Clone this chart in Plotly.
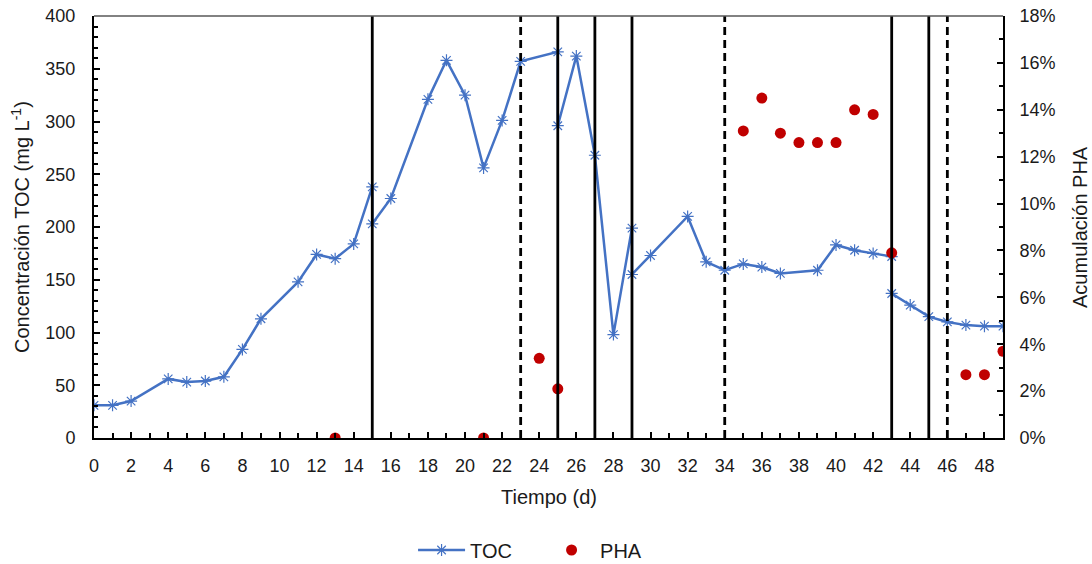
import plotly.graph_objects as go

# TOC concentration (mg/L) by day; repeated days mark the jump at a phase change
toc_day = [0, 1, 2, 4, 5, 6, 7, 8, 9, 11, 12, 13, 14, 15, 15, 16, 18, 19, 20, 21, 22, 23,
           25, 25, 26, 27, 28, 29, 29, 30, 32, 33, 34, 35, 36, 37, 39, 40, 41, 42, 43, 43,
           44, 45, 46, 47, 48, 49]
toc_val = [31, 31, 35, 56, 53, 54, 58, 84, 113, 148, 174, 170, 184, 238, 203, 227, 321, 358,
           325, 256, 301, 357, 366, 296, 362, 268, 98, 199, 155, 173, 210, 167, 159, 165, 162,
           156, 159, 183, 178, 175, 172, 137, 126, 115, 110, 107, 106, 106]

# PHA accumulation (fraction of biomass)
pha_day = [13, 21, 24, 25, 35, 36, 37, 38, 39, 40, 41, 42, 43, 47, 48, 49]
pha_val = [0.0, 0.0, 0.034, 0.021, 0.131, 0.145, 0.130, 0.126, 0.126, 0.126, 0.140, 0.138,
           0.079, 0.027, 0.027, 0.037]

# Operating phase boundaries
solid_days = [15, 25, 27, 29, 43, 45]
dashed_days = [23, 34, 46]

FONT = "Liberation Sans, Arial, sans-serif"
BLUE = "#4472C4"
RED = "#C00000"
TXT = "#1a1a1a"

fig = go.Figure()
fig.add_trace(go.Scatter(
    x=toc_day, y=toc_val, name="TOC", mode="lines+markers",
    line=dict(color=BLUE, width=2.5),
    marker=dict(symbol="asterisk-open", size=10, color=BLUE, line=dict(color=BLUE, width=1.2)),
))
fig.add_trace(go.Scatter(
    x=pha_day, y=pha_val, name="PHA", mode="markers", yaxis="y2",
    marker=dict(symbol="circle", size=11, color=RED),
))

shapes = []
for d in solid_days:
    shapes.append(dict(type="line", xref="x", yref="paper", x0=d, x1=d, y0=0, y1=1,
                       line=dict(color="black", width=2.8), layer="above"))
for d in dashed_days:
    shapes.append(dict(type="line", xref="x", yref="paper", x0=d, x1=d, y0=0, y1=1,
                       line=dict(color="black", width=2.8, dash="8px,5px"), layer="above"))
shapes.append(dict(type="line", xref="paper", yref="paper", x0=0, x1=1, y0=1, y1=1,
                   line=dict(color="#595959", width=1.5), layer="above"))

# Axis titles placed as annotations (plot area spans 909 x 422 px)
annotations = [
    dict(text="Tiempo (d)", xref="paper", yref="paper", x=0.5, y=-0.1398,
         xanchor="center", yanchor="middle", showarrow=False, font=dict(size=20, color=TXT)),
    dict(text="Concentración TOC (mg L<sup>-1</sup>)", xref="paper", yref="paper",
         x=-0.0814, y=0.5, xanchor="center", yanchor="middle", textangle=-90,
         showarrow=False, font=dict(size=20, color=TXT)),
    dict(text="Acumulación PHA", xref="paper", yref="paper",
         x=1.0847, y=0.5, xanchor="center", yanchor="middle", textangle=-90,
         showarrow=False, font=dict(size=20, color=TXT)),
]

fig.update_layout(
    width=1092, height=564,
    margin=dict(l=94, r=89, t=16, b=126, autoexpand=False),
    paper_bgcolor="white", plot_bgcolor="white",
    font=dict(family=FONT, size=18, color=TXT),
    showlegend=True,
    legend=dict(orientation="h", xref="paper", x=0.351, xanchor="left",
                yref="container", y=0.0248, yanchor="middle",
                font=dict(size=20), tracegroupgap=0, traceorder="normal",
                itemwidth=47, entrywidth=68),
    shapes=shapes,
    annotations=annotations,
    xaxis=dict(
        range=[0, 49], dtick=2, tick0=0, showgrid=False, zeroline=False,
        showline=True, linecolor="black", linewidth=2,
        ticks="inside", ticklen=6, tickwidth=2, tickcolor="black",
        minor=dict(dtick=1, ticks="inside", ticklen=5, tickwidth=2, tickcolor="black"),
        ticklabelstandoff=10, tickfont=dict(size=18),
    ),
    yaxis=dict(
        range=[0, 400], dtick=50, showgrid=False, zeroline=False,
        showline=True, linecolor="black", linewidth=2,
        ticks="inside", ticklen=6, tickwidth=2, tickcolor="black",
        minor=dict(dtick=10, ticks="inside", ticklen=4, tickwidth=2, tickcolor="black"),
        ticklabelstandoff=13, tickfont=dict(size=18),
    ),
    yaxis2=dict(
        range=[0, 0.18], dtick=0.02, tickformat=".0%", overlaying="y", side="right",
        showgrid=False, zeroline=False,
        showline=True, linecolor="black", linewidth=2,
        ticks="inside", ticklen=6, tickwidth=2, tickcolor="black",
        minor=dict(dtick=0.01, ticks="inside", ticklen=4, tickwidth=2, tickcolor="black"),
        ticklabelstandoff=11, tickfont=dict(size=18),
    ),
)

fig.write_html("out.html")
